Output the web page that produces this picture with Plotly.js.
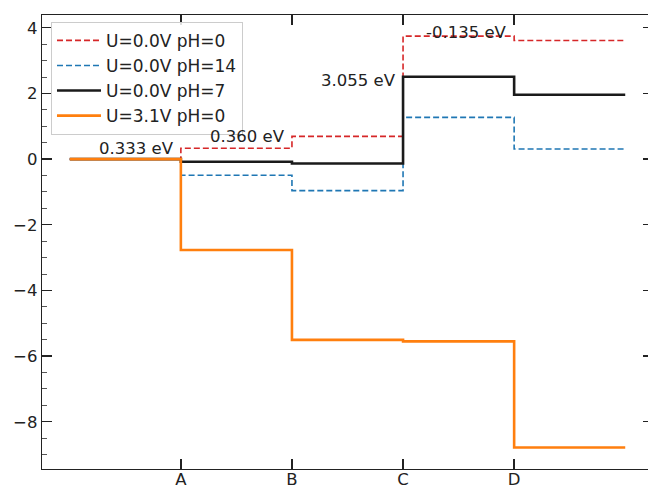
<!DOCTYPE html>
<html>
<head>
<meta charset="utf-8">
<script src="https://cdn.plot.ly/plotly-3.0.1.min.js"></script>
<style>
html, body { margin: 0; padding: 0; overflow: hidden; background: #fff; }
#chart { width: 660px; height: 500px; }
</style>
</head>
<body>
<div id="chart"></div>
<script>
// step edges (x positions of steps) and category tick labels
const stepEdges = [0, 1, 2, 3, 4, 5];
const tickPos = [1, 2, 3, 4];
const tickLabels = ["A", "B", "C", "D"];

// energy levels of each step (eV)
const seriesNames = ["U=0.0V pH=0", "U=0.0V pH=14", "U=0.0V pH=7", "U=3.1V pH=0"];
const levelsPH0 = [0, 0.333, 0.693, 3.748, 3.613];
const levelsPH14 = [0, -0.493, -0.959, 1.270, 0.309];
const levelsPH7 = [0, -0.080, -0.133, 2.509, 1.961];
const levelsU31 = [0, -2.767, -5.507, -5.552, -8.787];

// annotation labels
const annText = ["0.333 eV", "0.360 eV", "3.055 eV", "-0.135 eV"];
const annX = [1, 2, 3, 4];
const annY = [0.333, 0.693, 2.40, 3.85];

const FONT = "DejaVu Sans, Verdana, sans-serif";
const FS = 16.5;

function stepTrace(levels, name, color, width, dash) {
  const y = levels.concat([levels[levels.length - 1]]);
  return {
    x: stepEdges, y: y, name: name, type: "scatter", mode: "lines",
    line: { shape: "hv", color: color, width: width, dash: dash }
  };
}

const traces = [
  stepTrace(levelsPH0, seriesNames[0], "#d62728", 1.6, "6px,3px"),
  stepTrace(levelsPH14, seriesNames[1], "#1f77b4", 1.6, "6px,3px"),
  stepTrace(levelsPH7, seriesNames[2], "#1a1a1a", 2.6, "solid"),
  stepTrace(levelsU31, seriesNames[3], "#ff7f0e", 2.6, "solid")
];

const annotations = annText.map((t, i) => ({
  x: annX[i], y: annY[i], xref: "x", yref: "y", text: t, showarrow: false,
  xanchor: "right", yanchor: "middle", xshift: -5,
  font: { family: FONT, size: FS, color: "#222" }
}));

const layout = {
  width: 660, height: 500,
  margin: { l: 42, r: 7, t: 15, b: 31 },
  paper_bgcolor: "#fff", plot_bgcolor: "#fff",
  font: { family: FONT, size: FS, color: "#222" },
  showlegend: true,
  legend: {
    x: 0.0147, y: 0.985, xanchor: "left", yanchor: "top",
    itemwidth: 44,
    bgcolor: "rgba(255,255,255,0.85)", bordercolor: "#cccccc", borderwidth: 1,
    font: { family: FONT, size: 17, color: "#222" }
  },
  xaxis: {
    range: [-0.25, 5.25], tickmode: "array", tickvals: tickPos, ticktext: tickLabels,
    showgrid: false, zeroline: false, showline: true, mirror: "allticks",
    linecolor: "#222", linewidth: 1.3, ticks: "inside", ticklen: 10, tickwidth: 1.3,
    tickcolor: "#222", tickfont: { family: FONT, size: FS, color: "#222" },
    ticklabelstandoff: -5
  },
  yaxis: {
    range: [-9.44, 4.39], tickmode: "linear", tick0: 0, dtick: 2,
    showgrid: false, zeroline: false, showline: true, mirror: "allticks",
    linecolor: "#222", linewidth: 1.3, ticks: "inside", ticklen: 10, tickwidth: 1.3,
    tickcolor: "#222", tickfont: { family: FONT, size: FS, color: "#222" },
    minor: { ticks: "inside", ticklen: 5, tickwidth: 1, tickcolor: "#555", dtick: 0.5, tick0: 0, showgrid: false }
  },
  annotations: annotations
};

Plotly.newPlot("chart", traces, layout, { displayModeBar: false, staticPlot: true });
</script>
</body>
</html>
